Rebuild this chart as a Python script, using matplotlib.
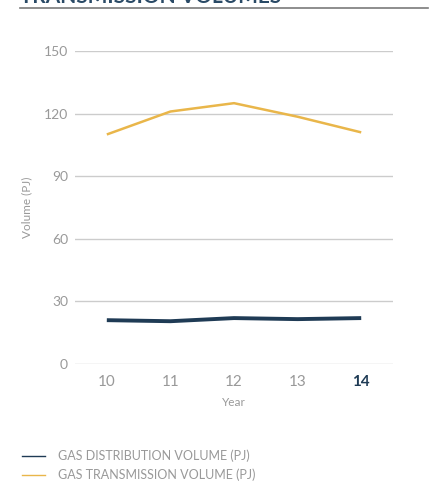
import matplotlib
matplotlib.use("Agg")
import matplotlib.pyplot as plt
from matplotlib.lines import Line2D

years = [10, 11, 12, 13, 14]
year_labels = ["10", "11", "12", "13", "14"]
distribution = [21, 20.5, 22, 21.5, 22]
transmission = [110, 121, 125, 118.5, 111]
y_ticks = [0, 30, 60, 90, 120, 150]

dist_color = "#1f3b55"
trans_color = "#e9b64a"
grid_color = "#cccccc"
text_color = "#999999"

plt.rcParams["font.family"] = ["Lato", "DejaVu Sans"]

fig = plt.figure(figsize=(4.4, 4.83), dpi=100)
ax = fig.add_axes([0.1705, 0.2464, 0.7227, 0.648])

ax.plot(years, transmission, color=trans_color, lw=1.8, solid_capstyle="butt", zorder=3)
ax.plot(years, distribution, color=dist_color, lw=2.8, solid_capstyle="butt", zorder=3)

ax.set_xlim(9.5, 14.5)
ax.set_ylim(0, 150)
ax.set_yticks(y_ticks)
ax.set_yticklabels([str(v) for v in y_ticks])
ax.set_xticks(years)
ax.set_xticklabels(year_labels)
ax.yaxis.grid(True, color=grid_color, lw=1)
ax.set_axisbelow(True)
for s in ax.spines.values():
    s.set_visible(False)
ax.tick_params(axis="both", length=0, colors=text_color)
ax.tick_params(axis="y", labelsize=10, pad=5)
ax.tick_params(axis="x", labelsize=11, pad=8)
xl = ax.get_xticklabels()
xl[-1].set_color(dist_color)
xl[-1].set_fontweight("bold")

ax.set_xlabel("Year", fontsize=8.5, color=text_color, labelpad=6)
ax.set_ylabel("Volume (PJ)", fontsize=8.5, color=text_color, labelpad=8)

# Section header running off the top edge, with its rule underneath
fig.text(20 / 440, 1 - 3 / 483, "TRANSMISSION VOLUMES", fontsize=15, fontweight="bold",
         color="#2a4a66", ha="left", va="baseline")
fig.add_artist(Line2D([20 / 440, 428 / 440], [1 - 8 / 483, 1 - 8 / 483],
                      color="#7a7a7a", lw=1.2, transform=fig.transFigure))

# Legend drawn below the plot
legend_items = [("GAS DISTRIBUTION VOLUME (PJ)", dist_color),
                ("GAS TRANSMISSION VOLUME (PJ)", trans_color)]
for i, (label, color) in enumerate(legend_items):
    yy = 1 - (456 + 19 * i) / 483
    fig.add_artist(Line2D([22 / 440, 45 / 440], [yy, yy], color=color, lw=1.0,
                          transform=fig.transFigure))
    fig.text(58 / 440, yy, label, fontsize=9, color=text_color, ha="left", va="center")

fig.savefig("out.png", dpi=100)
